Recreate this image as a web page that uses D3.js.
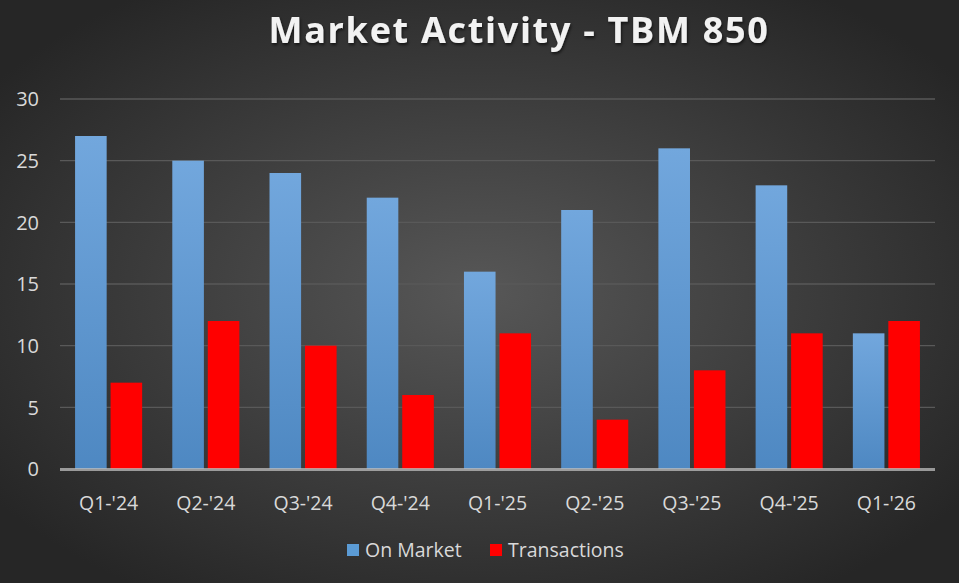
<!DOCTYPE html>
<html>
<head>
<meta charset="utf-8">
<script src="https://cdn.jsdelivr.net/npm/d3@7"></script>
<style>
  html, body { margin: 0; padding: 0; background: #333; }
  svg { display: block; }
  text { font-family: "Open Sans", "Noto Sans", sans-serif; }
</style>
</head>
<body>
<div id="chart"></div>
<script>
const categories = ["Q1-'24", "Q2-'24", "Q3-'24", "Q4-'24", "Q1-'25", "Q2-'25", "Q3-'25", "Q4-'25", "Q1-'26"];
const onMarket = [27, 25, 24, 22, 16, 21, 26, 23, 11];
const transactions = [7, 12, 10, 6, 11, 4, 8, 11, 12];
const seriesNames = ["On Market", "Transactions"];
const yTicks = [0, 5, 10, 15, 20, 25, 30];

const width = 959, height = 583;
const margin = { top: 99, right: 24, bottom: 114, left: 60 };

const svg = d3.select('#chart').append('svg')
    .attr('width', width)
    .attr('height', height);

const defs = svg.append('defs');

const bg = defs.append('radialGradient')
    .attr('id', 'bg')
    .attr('cx', '50%').attr('cy', '50%').attr('r', '62%');
bg.append('stop').attr('offset', '0%').attr('stop-color', '#575757');
bg.append('stop').attr('offset', '100%').attr('stop-color', '#262626');

const blue = defs.append('linearGradient')
    .attr('id', 'blue')
    .attr('x1', '0').attr('y1', '0').attr('x2', '0').attr('y2', '1');
blue.append('stop').attr('offset', '0%').attr('stop-color', '#72a7dd');
blue.append('stop').attr('offset', '100%').attr('stop-color', '#4e88c2');

const shadow = defs.append('filter').attr('id', 'shadow')
    .attr('x', '-10%').attr('y', '-30%').attr('width', '120%').attr('height', '160%');
shadow.append('feDropShadow')
    .attr('dx', 1).attr('dy', 2).attr('stdDeviation', 1.5)
    .attr('flood-color', '#000').attr('flood-opacity', 0.6);

svg.append('rect')
    .attr('width', width).attr('height', height)
    .attr('fill', 'url(#bg)');

const x0 = d3.scaleBand()
    .domain(categories)
    .range([margin.left, width - margin.right])
    .paddingInner(0.31)
    .paddingOuter(0.155);

const x1 = d3.scaleBand()
    .domain(seriesNames)
    .range([0, x0.bandwidth()])
    .paddingInner(0.11);

const y = d3.scaleLinear()
    .domain([0, 30])
    .range([height - margin.bottom, margin.top]);

// gridlines
svg.append('g')
    .selectAll('line')
    .data(yTicks.filter(d => d > 0))
    .enter().append('line')
    .attr('x1', margin.left)
    .attr('x2', width - margin.right)
    .attr('y1', d => y(d))
    .attr('y2', d => y(d))
    .attr('stroke', '#595959')
    .attr('stroke-width', 1.3);

// y labels
svg.append('g')
    .selectAll('text')
    .data(yTicks)
    .enter().append('text')
    .attr('x', 39)
    .attr('y', d => y(d))
    .attr('dy', '0.36em')
    .attr('text-anchor', 'end')
    .attr('fill', '#d9d9d9')
    .style('font-size', '20px')
    .text(d => d);

const colors = { "On Market": 'url(#blue)', "Transactions": '#ff0000' };

const groups = svg.append('g')
    .selectAll('g')
    .data(categories)
    .enter().append('g')
    .attr('transform', d => `translate(${x0(d)},0)`);

groups.selectAll('rect')
    .data((d, i) => [
        { key: "On Market", value: onMarket[i] },
        { key: "Transactions", value: transactions[i] }
    ])
    .enter().append('rect')
    .attr('x', d => x1(d.key))
    .attr('y', d => y(d.value))
    .attr('width', x1.bandwidth())
    .attr('height', d => y(0) - y(d.value))
    .attr('fill', d => colors[d.key]);

// x axis line
svg.append('line')
    .attr('x1', margin.left)
    .attr('x2', width - margin.right)
    .attr('y1', y(0) + 0.5)
    .attr('y2', y(0) + 0.5)
    .attr('stroke', '#bfbfbf')
    .attr('stroke-opacity', 0.75)
    .attr('stroke-width', 3);

// x labels
svg.append('g')
    .selectAll('text')
    .data(categories)
    .enter().append('text')
    .attr('x', d => x0(d) + x0.bandwidth() / 2)
    .attr('y', 503)
    .attr('dy', '0.36em')
    .attr('text-anchor', 'middle')
    .attr('fill', '#d9d9d9')
    .style('font-size', '19.5px')
    .text(d => d);

// title
svg.append('text')
    .attr('x', 519)
    .attr('y', 43)
    .attr('text-anchor', 'middle')
    .attr('fill', '#f2f2f2')
    .attr('filter', 'url(#shadow)')
    .style('font-size', '36px')
    .style('font-weight', 'bold')
    .style('letter-spacing', '1.7px')
    .text('Market Activity - TBM 850');

// legend
const legend = svg.append('g');
const legendItems = [
    { name: seriesNames[0], color: '#5b9bd5', x: 347 },
    { name: seriesNames[1], color: '#ff0000', x: 490 }
];
legendItems.forEach(item => {
    legend.append('rect')
        .attr('x', item.x)
        .attr('y', 544)
        .attr('width', 12)
        .attr('height', 12)
        .attr('fill', item.color);
    legend.append('text')
        .attr('x', item.x + 18)
        .attr('y', 550)
        .attr('dy', '0.36em')
        .attr('fill', '#d9d9d9')
        .style('font-size', '19.5px')
        .text(item.name);
});
</script>
</body>
</html>
